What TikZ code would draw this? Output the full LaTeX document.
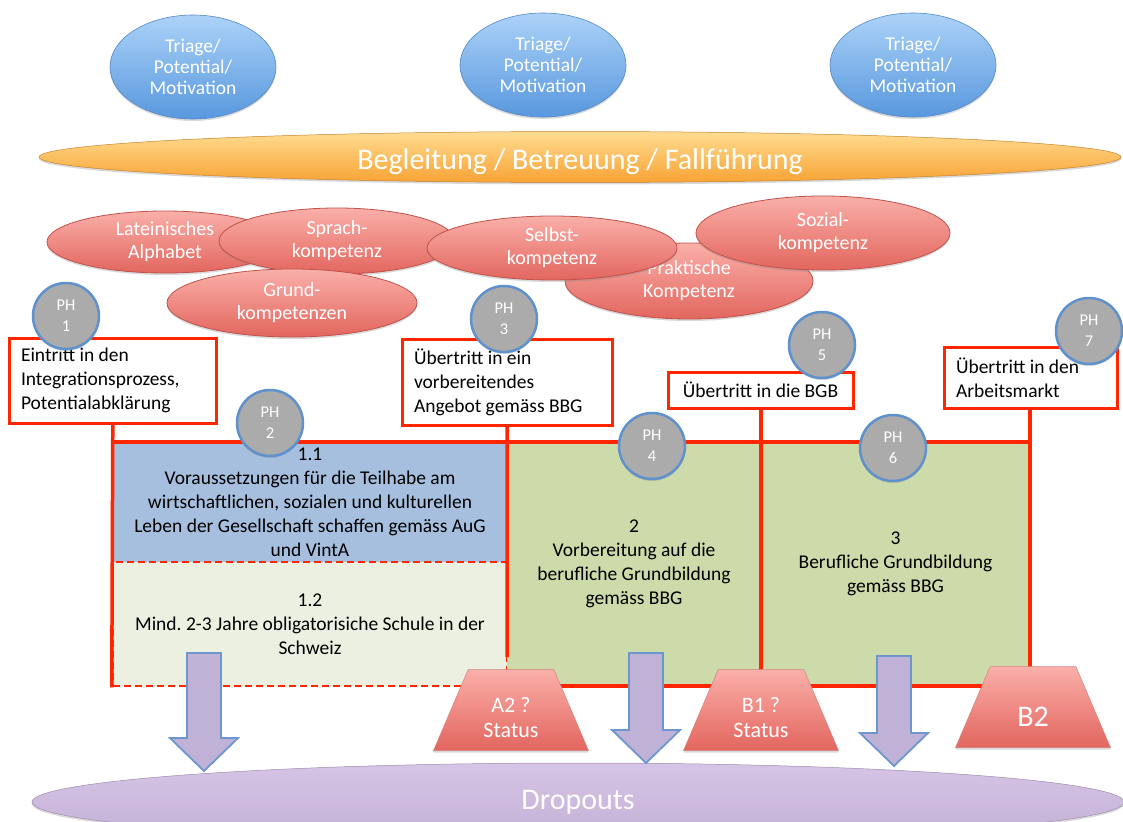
\documentclass[tikz,border=0pt]{standalone}
\usepackage{fontspec}
\setmainfont{Carlito}
\usetikzlibrary{shapes.geometric,shadows}

\definecolor{triagetop}{RGB}{172,210,248}
\definecolor{triagebottom}{RGB}{88,152,222}
\definecolor{triageedge}{RGB}{82,136,200}
\definecolor{bandtop}{RGB}{255,220,145}
\definecolor{bandbottom}{RGB}{248,163,52}
\definecolor{komptop}{RGB}{250,175,169}
\definecolor{kompbottom}{RGB}{226,102,94}
\definecolor{kompedge}{RGB}{192,82,76}
\definecolor{framered}{RGB}{255,38,0}
\definecolor{phgray}{RGB}{171,171,171}
\definecolor{phblue}{RGB}{95,145,205}
\definecolor{auxblue}{RGB}{166,191,222}
\definecolor{schoolbeige}{RGB}{235,240,225}
\definecolor{prepgreen}{RGB}{205,218,170}
\definecolor{arrowfill}{RGB}{192,178,214}
\definecolor{arrowedge}{RGB}{108,150,206}
\definecolor{dropouttop}{RGB}{214,196,230}
\definecolor{dropoutbottom}{RGB}{196,176,214}

\begin{document}
\begin{tikzpicture}
      [x = 1pt, y = -1pt,
      font = \fontsize{19.5}{24}\selectfont,
      softshadow/.style = {
         drop shadow = {opacity = 0.3, shadow xshift = 0pt, shadow yshift = -2pt}
      },
      triage/.style = {
         ellipse,
         minimum width = 166pt,
         minimum height = 104pt,
         inner sep = 0pt,
         top color = triagetop,
         bottom color = triagebottom,
         draw = triageedge,
         line width = 0.6pt,
         align = center,
         text = white,
         font = \fontsize{19.5}{21}\selectfont,
         softshadow
      },
      band/.style = {
         ellipse,
         inner sep = 0pt,
         draw = bandbottom!80!black,
         line width = 0.5pt,
         text = white,
         font = \fontsize{30}{34}\selectfont,
         softshadow
      },
      komp/.style = {
         ellipse,
         inner sep = 0pt,
         top color = komptop,
         bottom color = kompbottom,
         draw = kompedge,
         line width = 0.8pt,
         align = center,
         text = white,
         font = \fontsize{20}{23}\selectfont,
         softshadow
      },
      infobox/.style = {
         rectangle,
         draw = framered,
         line width = 3pt,
         fill = white,
         inner xsep = 12pt,
         inner ysep = 0pt,
         align = flush left
      },
      stage/.style = {
         rectangle,
         inner sep = 0pt,
         align = center
      },
      frameline/.style = {
         draw = framered,
         line width = 3.5pt
      },
      ph/.style = {
         circle,
         fill = phgray,
         draw = phblue,
         line width = 2.5pt,
         minimum size = 66pt,
         inner sep = 0pt,
         align = center,
         text = white,
         font = \fontsize{16.5}{21}\selectfont,
         softshadow
      },
      droparrow/.style = {
         fill = arrowfill,
         draw = arrowedge,
         line width = 1.8pt,
         line join = miter
      },
      level/.style = {
         trapezium,
         trapezium left angle = 68,
         trapezium right angle = 68,
         trapezium stretches = true,
         minimum width = 155pt,
         minimum height = 81pt,
         inner sep = 2pt,
         top color = komptop,
         bottom color = kompbottom,
         draw = kompedge!70,
         line width = 0.5pt,
         softshadow
      },
      leveltext/.style = {
         text = white,
         align = center,
         font = \fontsize{22}{25}\selectfont
      }]

      \useasboundingbox (0, 0) rectangle (1123, 821);

      % triage on top
      \node[triage] (triage1) at (193, 67) {Triage/\\Potential/\\Motivation};
      \node[triage] (triage2) at (543, 65) {Triage/\\Potential/\\Motivation};
      \node[triage] (triage3) at (913, 65) {Triage/\\Potential/\\Motivation};

      \node[band, minimum width = 1082pt, minimum height = 50pt,
         top color = bandtop, bottom color = bandbottom,
         text height = 30pt, text depth = 6pt] (care) at (580, 157)
         {Begleitung / Betreuung / Fallführung};

      % competences
      \node[komp, minimum width = 236pt, minimum height = 62pt] (latin) at (165, 242) {Lateinisches\\Alphabet};
      \node[komp, minimum width = 236pt, minimum height = 66pt] (language) at (337, 241) {Sprach-\\kompetenz};
      \node[komp, minimum width = 250pt, minimum height = 68pt] (basic) at (292, 303) {Grund-\\kompetenzen};
      \node[komp, minimum width = 248pt, minimum height = 76pt] (practical) at (689, 281) {Praktische\\Kompetenz};
      \node[komp, minimum width = 250pt, minimum height = 64pt] (self) at (552, 248) {Selbst-\\kompetenz};
      \node[komp, minimum width = 254pt, minimum height = 74pt] (social) at (823, 233) {Sozial-\\kompetenz};

      % dropouts
      \node[band, minimum width = 1092pt, minimum height = 78pt,
         top color = dropouttop, bottom color = dropoutbottom,
         draw = dropoutbottom!80!black] (dropouts) at (578, 802) {Dropouts};

      % stages
      \node[stage, minimum width = 394pt, minimum height = 120pt, fill = auxblue] (s11) at (310, 502)
         {1.1\\Voraussetzungen für die Teilhabe am\\wirtschaftlichen, sozialen und kulturellen\\Leben der Gesellschaft schaffen gemäss AuG\\und VintA};
      \node[stage, minimum width = 394pt, minimum height = 124pt, fill = schoolbeige,
         draw = framered, line width = 2.5pt, dash pattern = on 7pt off 4pt] (s12) at (310, 624)
         {1.2\\Mind.\ 2-3 Jahre obligatorisiche Schule in der\\Schweiz};
      \node[stage, minimum width = 254pt, minimum height = 244pt, fill = prepgreen] (s2) at (634, 564)
         {2\\Vorbereitung auf die\\berufliche Grundbildung\\gemäss BBG};
      \node[stage, minimum width = 269pt, minimum height = 244pt, fill = prepgreen] (s3) at (895.5, 564)
         {3\\Berufliche Grundbildung\\gemäss BBG};

      % transitions
      \node[infobox, text width = 183pt, minimum height = 85pt] (intro) at (112.5, 380.5)
         {Eintritt in den\\Integrationsprozess,\\Potentialabklärung};
      \node[infobox, text width = 186pt, minimum height = 86pt] (prep) at (507, 382)
         {Übertritt in ein\\vorbereitendes\\Angebot gemäss BBG};
      \node[infobox, minimum width = 185pt, minimum height = 36pt] (bgb) at (760.5, 390)
         {Übertritt in die BGB};
      \node[infobox, text width = 149pt, minimum height = 61pt] (market) at (1030.5, 377.5)
         {Übertritt in den\\Arbeitsmarkt};

      \coordinate (prepend) at (507, 657);
      \draw[frameline] (s11.north west) -- (s3.north east);
      \draw[frameline] (intro.south -| s11.west) -- (s12.south west);
      \draw[frameline] (prep.south -| s11.east) -- (prepend);
      \draw[frameline] (bgb.south -| s3.west) -- (s3.south west);
      \draw[frameline] (market.south -| s3.east) -- (s3.south east);
      \draw[frameline] (s2.south west) -- (s3.south east);

      % phases
      \foreach \n/\px/\py in {1/66/316, 2/270/423, 3/504/319, 4/652/446, 5/822/345, 6/893/448, 7/1089/331}
         \node[ph] (ph\n) at (\px, \py) {PH\\\n};

      % drop out arrows
      \foreach \ax/\ay/\at in {204/653/771, 646/653/763, 894/656/766}
         \draw[droparrow] (\ax-17, \ay) -- (\ax+17, \ay) -- (\ax+17, \at-33) -- (\ax+34, \at-33)
            -- (\ax, \at) -- (\ax-34, \at-33) -- (\ax-17, \at-33) -- cycle;

      % language levels
      \node[level, label = {[leveltext, yshift = -8pt]center:A2 ?\\Status}] (levelA) at (511, 710) {};
      \node[level, label = {[leveltext, yshift = -8pt]center:B1 ?\\Status}] (levelB) at (761, 710) {};
      \node[level, label = {[leveltext, yshift = -10pt, font = \fontsize{30}{34}\selectfont]center:B2}]
         (levelC) at (1033, 707) {};

   \end{tikzpicture}
\end{document}
